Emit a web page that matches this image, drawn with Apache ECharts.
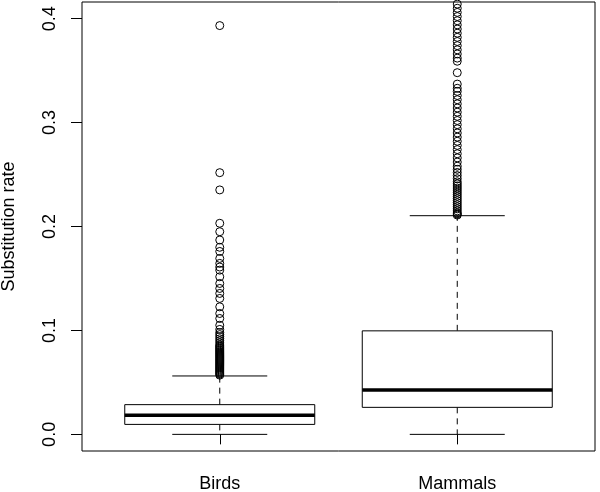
<!DOCTYPE html>
<html>
<head>
<meta charset="utf-8">
<script src="https://cdn.jsdelivr.net/npm/echarts@6/dist/echarts.min.js"></script>
<style>
html,body{margin:0;padding:0;background:#fff;}
#chart{width:600px;height:492px;}
</style>
</head>
<body>
<div id="chart"></div>
<script>
// ---- data ----
const categories = ['Birds', 'Mammals'];
const mins    = [0.0,    0.0];
const q1s     = [0.0096, 0.026];
const medians = [0.0183, 0.0427];
const q3s     = [0.0286, 0.0996];
const maxs    = [0.0562, 0.2104];
const yTicks  = [0.0, 0.1, 0.2, 0.3, 0.4];

const birdsOutliers = [
  0.3933, 0.2518, 0.2352, 0.2031, 0.195, 0.187, 0.180, 0.176, 0.1693, 0.1645,
  0.161, 0.158, 0.1516, 0.1452, 0.1404, 0.1356, 0.1308, 0.1227, 0.1163, 0.1115,
  0.105, 0.101, 0.098, 0.096, 0.094, 0.092, 0.090, 0.088, 0.086, 0.085, 0.084,
  0.083, 0.082, 0.081, 0.080, 0.079, 0.078, 0.077, 0.076, 0.075, 0.074, 0.073,
  0.072, 0.071, 0.070, 0.069, 0.068, 0.067, 0.066, 0.065, 0.064, 0.063, 0.062,
  0.061, 0.060, 0.059, 0.058, 0.057
];
const mammalsOutliers = [
  0.418, 0.414, 0.410, 0.406, 0.402, 0.398, 0.394, 0.390, 0.386, 0.382, 0.378,
  0.374, 0.370, 0.366, 0.362, 0.359, 0.348, 0.337, 0.333, 0.330, 0.326, 0.322,
  0.318, 0.314, 0.310, 0.306, 0.302, 0.298, 0.294, 0.290, 0.286, 0.282, 0.278,
  0.274, 0.270, 0.266, 0.262, 0.258, 0.255, 0.252, 0.249, 0.246, 0.243, 0.241,
  0.239, 0.237, 0.235, 0.233, 0.231, 0.229, 0.227, 0.225, 0.223, 0.221, 0.219,
  0.217, 0.215, 0.213, 0.212, 0.211
];

// ---- build ----
const boxData = categories.map((c, i) => [i + 1, mins[i], q1s[i], medians[i], q3s[i], maxs[i]]);
const outlierData = [];
birdsOutliers.forEach(v => outlierData.push([1, v]));
mammalsOutliers.forEach(v => outlierData.push([2, v]));

const FONT = "'Liberation Sans', Arial, sans-serif";
const chart = echarts.init(document.getElementById('chart'), null, {renderer: 'canvas'});

chart.setOption({
  animation: false,
  backgroundColor: '#fff',
  grid: {
    left: 82, right: 5, top: 2, bottom: 41,
    outerBoundsMode: 'none', containLabel: false,
    show: true, borderColor: '#000', borderWidth: 1, backgroundColor: 'transparent'
  },
  xAxis: {
    type: 'value', min: 0.42, max: 2.58,
    axisLine: {show: false},
    splitLine: {show: false},
    axisTick: {show: true, length: 10, customValues: [1, 2], lineStyle: {color: '#000', width: 1}},
    axisLabel: {
      show: true, customValues: [1, 2], margin: 24,
      color: '#000', fontSize: 18, fontFamily: FONT,
      formatter: v => categories[Math.round(v) - 1] || ''
    }
  },
  yAxis: {
    type: 'value', min: -0.016, max: 0.416,
    name: 'Substitution rate', nameLocation: 'middle', nameRotate: 90, nameGap: 64,
    nameTextStyle: {color: '#000', fontSize: 18, fontFamily: FONT},
    axisLine: {show: false},
    splitLine: {show: false},
    axisTick: {show: true, length: 11, customValues: yTicks, lineStyle: {color: '#000', width: 1}},
    axisLabel: {
      show: true, customValues: yTicks, rotate: 90, margin: 23,
      color: '#000', fontSize: 18, fontFamily: FONT,
      formatter: v => v.toFixed(1)
    }
  },
  series: [
    {
      type: 'custom',
      data: boxData,
      encode: {x: 0, y: [1, 2, 3, 4, 5]},
      clip: true,
      renderItem: function (params, api) {
        const x = api.value(0);
        const pMin = api.coord([x, api.value(1)]);
        const pQ1  = api.coord([x, api.value(2)]);
        const pMed = api.coord([x, api.value(3)]);
        const pQ3  = api.coord([x, api.value(4)]);
        const pMax = api.coord([x, api.value(5)]);
        const bw = api.size([0.8, 0])[0];
        const cw = api.size([0.4, 0])[0];
        const cx = pMed[0];
        const solid = {stroke: '#000', lineWidth: 1, fill: null};
        const dashed = {stroke: '#000', lineWidth: 1, lineDash: [6, 5], fill: null};
        return {
          type: 'group',
          children: [
            {type: 'line', shape: {x1: cx, y1: pQ3[1], x2: cx, y2: pMax[1]}, style: dashed},
            {type: 'line', shape: {x1: cx, y1: pQ1[1], x2: cx, y2: pMin[1]}, style: dashed},
            {type: 'line', shape: {x1: cx - cw / 2, y1: pMax[1], x2: cx + cw / 2, y2: pMax[1]}, style: solid},
            {type: 'line', shape: {x1: cx - cw / 2, y1: pMin[1], x2: cx + cw / 2, y2: pMin[1]}, style: solid},
            {type: 'rect', shape: {x: cx - bw / 2, y: pQ3[1], width: bw, height: pQ1[1] - pQ3[1]},
              style: {stroke: '#000', lineWidth: 1, fill: '#fff'}},
            {type: 'line', shape: {x1: cx - bw / 2, y1: pMed[1], x2: cx + bw / 2, y2: pMed[1]},
              style: {stroke: '#000', lineWidth: 3.5}}
          ]
        };
      }
    },
    {
      type: 'scatter',
      data: outlierData,
      symbol: 'circle',
      symbolSize: 8,
      clip: true,
      itemStyle: {color: 'transparent', borderColor: '#000', borderWidth: 1, opacity: 1}
    }
  ]
});
</script>
</body>
</html>
